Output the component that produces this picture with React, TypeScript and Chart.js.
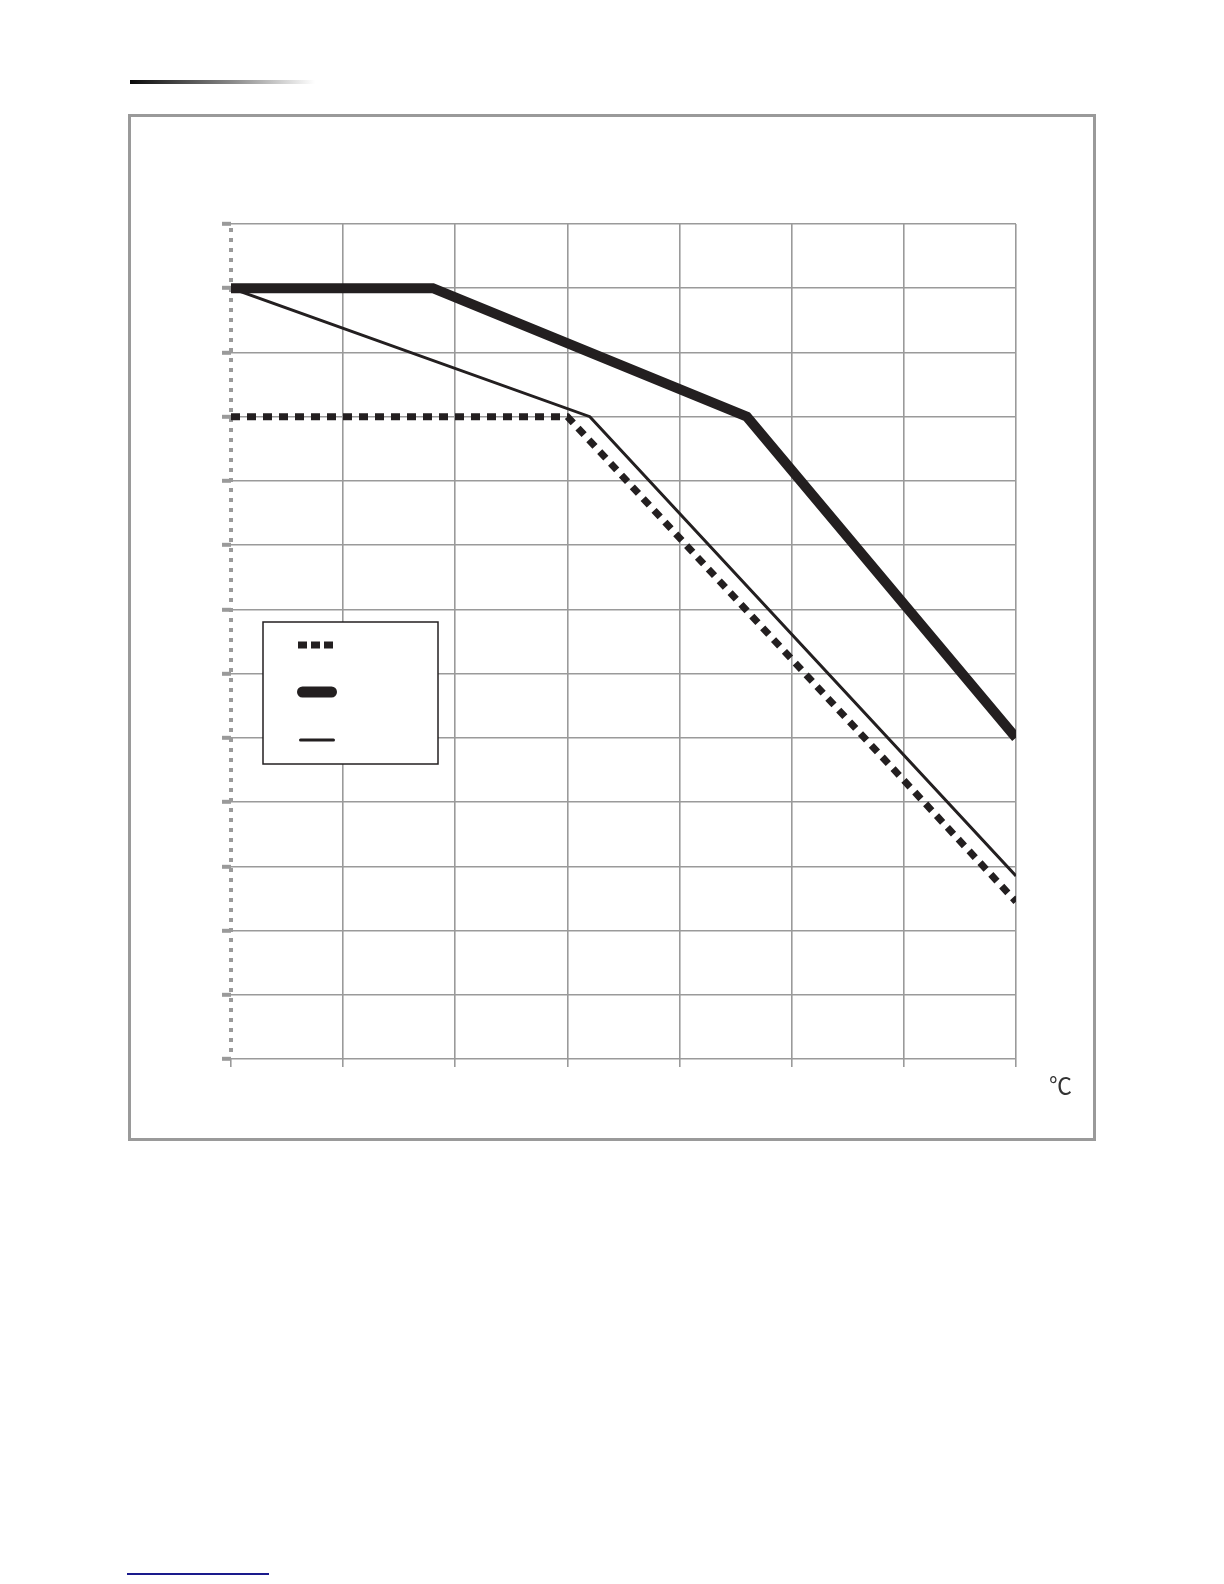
import { useEffect, useRef } from "react";
import { Chart, registerables } from "chart.js";

Chart.register(...registerables);

// axis ranges (no tick labels are printed in the reference)
const xTicks = [0, 10, 20, 30, 40, 50, 60, 70];
const yTicks = [0, 10, 20, 30, 40, 50, 60, 70, 80, 90, 100, 110, 120, 130];

// thick solid curve
const thickX = [0, 18, 46, 70];
const thickY = [120, 120, 100, 50];
// thin solid curve
const thinX = [0, 32, 70];
const thinY = [120, 100, 28.5];
// dashed curve
const dashX = [0, 30, 70];
const dashY = [100, 100, 24.5];

const ink = "#231f20";
const gridGray = "#9a9a9a";

const toPoints = (xs: number[], ys: number[]) => xs.map((x, i) => ({ x, y: ys[i] }));

// dotted y axis line (chart.js border.dash only styles grid lines)
const dottedAxis = {
  id: "dottedAxis",
  beforeDatasetsDraw(chart: any) {
    const { ctx, chartArea } = chart;
    ctx.save();
    ctx.strokeStyle = gridGray;
    ctx.lineWidth = 4;
    ctx.setLineDash([4, 6]);
    ctx.beginPath();
    ctx.moveTo(chartArea.left, chartArea.top + 4);
    ctx.lineTo(chartArea.left, chartArea.bottom);
    ctx.stroke();
    ctx.restore();
  },
};

// legend box with line samples only (no text)
const legendBox = {
  id: "legendBox",
  afterDraw(chart: any) {
    const { ctx, chartArea } = chart;
    const left = chartArea.left + 32;
    const top = chartArea.top + 398;
    ctx.save();
    ctx.fillStyle = "#fff";
    ctx.fillRect(left, top, 175, 142);
    ctx.strokeStyle = ink;
    ctx.lineWidth = 1.5;
    ctx.setLineDash([]);
    ctx.strokeRect(left, top, 175, 142);

    const rows = [
      { dy: 23, x0: 35, x1: 70, w: 7, dash: [9, 4], cap: "butt" },
      { dy: 70, x0: 39.5, x1: 68.5, w: 11, dash: [], cap: "round" },
      { dy: 118, x0: 37.5, x1: 70.5, w: 3, dash: [], cap: "round" },
    ];
    rows.forEach((r) => {
      ctx.beginPath();
      ctx.strokeStyle = ink;
      ctx.lineWidth = r.w;
      ctx.lineCap = r.cap;
      ctx.setLineDash(r.dash);
      ctx.moveTo(left + r.x0, top + r.dy);
      ctx.lineTo(left + r.x1, top + r.dy);
      ctx.stroke();
    });
    ctx.restore();
  },
};

const DeratingChart: React.FC = () => {
  const canvasRef = useRef<HTMLCanvasElement>(null);
  const chartRef = useRef<Chart | null>(null);

  useEffect(() => {
    if (!canvasRef.current) return;
    if (chartRef.current) chartRef.current.destroy();

    chartRef.current = new Chart(canvasRef.current, {
      type: "line",
      data: {
        datasets: [
          {
            label: "dashed",
            data: toPoints(dashX, dashY),
            borderColor: ink,
            borderWidth: 7,
            borderDash: [9, 7],
            borderCapStyle: "butt",
            pointRadius: 0,
            tension: 0,
          },
          {
            label: "thick",
            data: toPoints(thickX, thickY),
            borderColor: ink,
            borderWidth: 10,
            borderCapStyle: "butt",
            borderJoinStyle: "miter",
            pointRadius: 0,
            tension: 0,
          },
          {
            label: "thin",
            data: toPoints(thinX, thinY),
            borderColor: ink,
            borderWidth: 3,
            borderCapStyle: "butt",
            pointRadius: 0,
            tension: 0,
          },
        ],
      },
      options: {
        responsive: false,
        animation: false,
        events: [],
        layout: { padding: { left: 100, top: 107, right: 77, bottom: 79 } },
        plugins: {
          legend: { display: false },
          tooltip: { enabled: false },
        },
        scales: {
          x: {
            type: "linear",
            min: xTicks[0],
            max: xTicks[xTicks.length - 1],
            afterFit: (s: any) => {
              s.height = 0;
            },
            ticks: { display: false, stepSize: 10 },
            border: { display: false },
            grid: {
              color: (c: any) => (c.index === 0 ? "rgba(0,0,0,0)" : gridGray),
              lineWidth: 1.6,
              tickColor: gridGray,
              tickWidth: 1.6,
              tickLength: 8,
            },
          },
          y: {
            type: "linear",
            min: yTicks[0],
            max: yTicks[yTicks.length - 1],
            afterFit: (s: any) => {
              s.width = 0;
            },
            ticks: { display: false, stepSize: 10 },
            border: { display: false },
            grid: {
              color: gridGray,
              lineWidth: 1.6,
              tickColor: gridGray,
              tickWidth: 4,
              tickLength: 9,
            },
          },
        },
      },
      plugins: [dottedAxis, legendBox],
    });

    return () => {
      chartRef.current?.destroy();
    };
  }, []);

  return (
    <div
      style={{
        position: "absolute",
        left: 128,
        top: 114,
        width: 962,
        height: 1021,
        border: "3px solid #9a9a9a",
        background: "#fff",
      }}
    >
      <canvas ref={canvasRef} width={962} height={1021} style={{ display: "block" }} />
    </div>
  );
};

export default function App() {
  return (
    <div style={{ fontFamily: "'Noto Sans', sans-serif" }}>
      <div
        style={{
          position: "absolute",
          left: 130,
          top: 80,
          width: 185,
          height: 4,
          background: "linear-gradient(to right, #0a0a0a 0%, #888 55%, #d8d8d8 85%, #fff 100%)",
        }}
      />
      <DeratingChart />
      <span
        style={{
          position: "absolute",
          left: 1049,
          top: 1073,
          fontSize: 23,
          lineHeight: "23px",
          fontFamily: "'Noto Sans CJK SC', sans-serif",
          fontWeight: 400,
          color: "#333",
        }}
      >
        ℃
      </span>
      <div
        style={{
          position: "absolute",
          left: 127,
          top: 1573,
          width: 142,
          height: 2,
          background: "#1a1a8c",
        }}
      />
    </div>
  );
}
